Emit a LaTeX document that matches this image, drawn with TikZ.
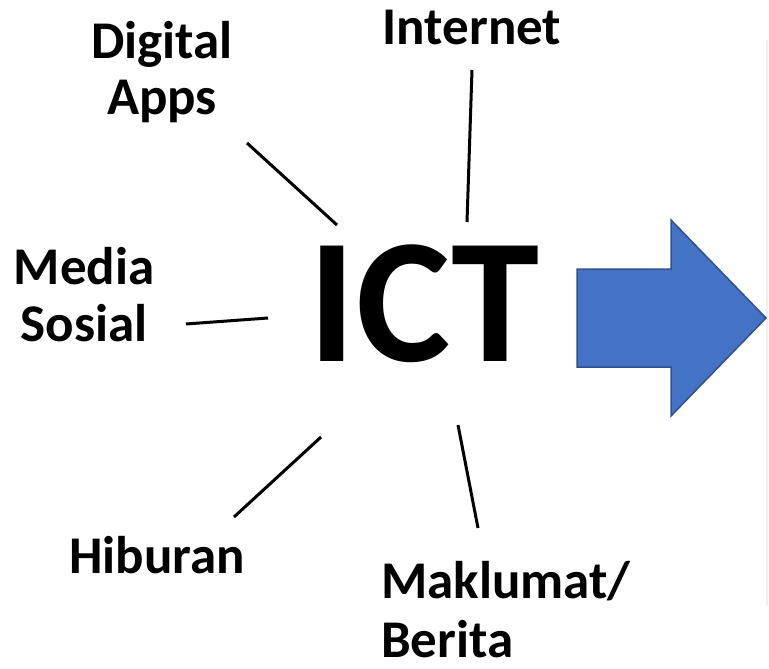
\documentclass[tikz,border=0pt]{standalone}
\usepackage{fontspec}
\setmainfont{Carlito}
\definecolor{arrowfill}{HTML}{4472C4}
\definecolor{arrowdraw}{HTML}{2F528F}
\begin{document}
\begin{tikzpicture}[x=1pt,y=-1pt,
  lbl/.style={inner sep=0pt,anchor=base,font=\fontsize{53}{55}\selectfont\bfseries},
  lbll/.style={lbl,anchor=base west},
  spoke/.style={line width=3pt,black}]
\useasboundingbox (0,0) rectangle (769,669);
% faint edge line
\draw[black!6,line width=1.5pt] (767,40) -- (767,605);
% center
\node[inner sep=0pt,anchor=base,font=\fontsize{178}{178}\selectfont\bfseries] (ict) at (424,361) {ICT};
% labels
\node[lbl] (dig1) at (162,59) {Digital};
\node[lbl] (dig2) at (162,114) {Apps};
\node[lbl] (inet) at (472,45) {Internet};
\node[lbl] (med1) at (84,284) {Media};
\node[lbl] (med2) at (84,341) {Sosial};
\node[lbl] (hib) at (157,573) {Hiburan};
\node[lbll] (mak1) at (381,598) {Maklumat/};
\node[lbll] (mak2) at (381,657) {Berita};
% spokes
\coordinate (d1) at (247,143); \coordinate (d2) at (337,225);
\coordinate (i1) at (472,70);  \coordinate (i2) at (467,222);
\coordinate (m1) at (186,324); \coordinate (m2) at (268,318);
\coordinate (h1) at (234,517); \coordinate (h2) at (321,437);
\coordinate (k1) at (458,425); \coordinate (k2) at (478,528);
\draw[spoke] (d1) -- (d2);
\draw[spoke] (i1) -- (i2);
\draw[spoke] (m1) -- (m2);
\draw[spoke] (h1) -- (h2);
\draw[spoke] (k1) -- (k2);
% block arrow
\draw[fill=arrowfill,draw=arrowdraw,line width=1.5pt,line join=miter]
  (577,269) -- (671,269) -- (671,220) -- (766,318) -- (671,416) -- (671,367) -- (577,367) -- cycle;
\end{tikzpicture}
\end{document}
